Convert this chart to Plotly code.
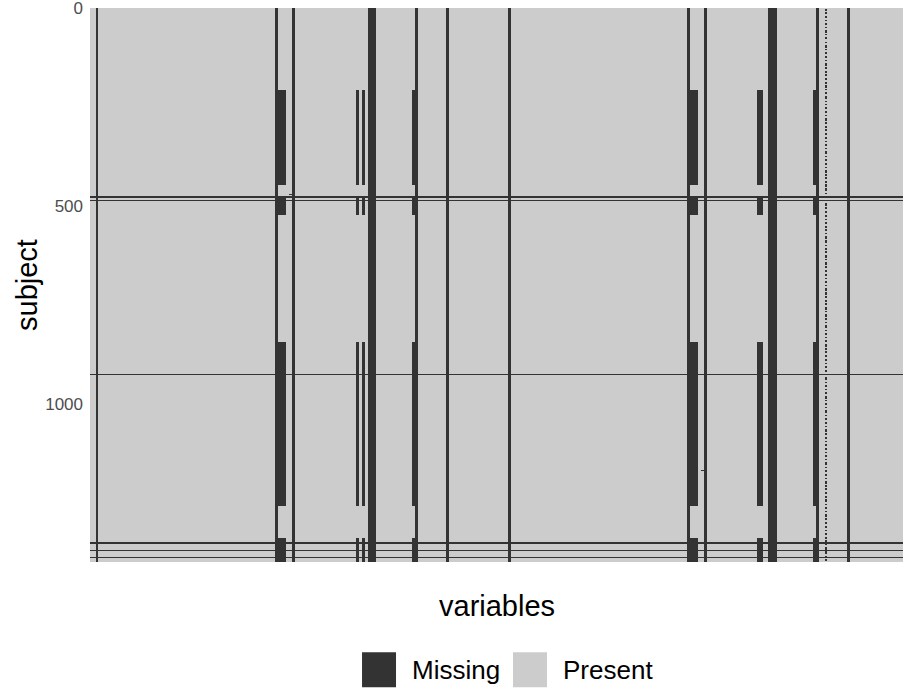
import numpy as np
import plotly.graph_objects as go

# ---- data (vis_miss style missingness map) ----
n_rows = 1400
n_cols = 290
y_ticks = [0, 500, 1000]
legend_labels = ["Missing", "Present"]
legend_colors = ["#333333", "#cccccc"]

# columns that are missing for every subject
full_missing_cols = [2, 66, 72, 99, 100, 101, 116, 127, 149, 213, 219, 242, 243, 244, 259, 270]
# columns missing in the same blocks of subjects
block_missing_cols = [67, 68, 69, 95, 97, 115, 214, 215, 216, 238, 239, 258]
block_segments = [(206, 448), (476, 524), (845, 1259), (1340, 1400)]
# subjects missing on every variable
full_missing_rows = [476, 478, 486, 926, 1350, 1353, 1370, 1388]
# single missing cells (row, col)
single_missing = [(471, 71), (1168, 218)]
# sparsely missing column: runs of (first subject, number of subjects)
speckle_col = 262
speckle_runs = [
    (2, 6), (11, 4), (19, 7), (30, 3), (37, 6), (47, 4), (56, 7), (66, 3), (73, 5), (85, 4),
    (93, 7), (104, 3), (111, 5), (121, 6), (131, 3), (139, 7), (150, 4), (158, 5), (168, 3),
    (176, 7), (187, 4), (195, 6), (205, 3), (213, 5), (223, 7), (234, 4), (242, 3), (250, 6),
    (260, 5), (270, 3), (278, 7), (289, 4), (297, 5), (307, 3), (315, 6), (325, 7), (336, 3),
    (344, 5), (353, 4), (362, 7), (373, 3), (381, 6), (391, 5), (401, 3), (409, 7), (420, 4),
    (428, 5), (438, 3), (446, 6), (456, 7), (467, 3), (475, 5), (484, 4), (493, 7), (504, 3),
    (512, 6), (522, 5), (532, 3), (540, 7), (551, 4), (559, 5), (569, 3), (577, 6), (587, 7),
    (598, 3), (606, 5), (615, 4), (624, 7), (635, 3), (643, 6), (653, 5), (663, 3), (671, 7),
    (682, 4), (690, 5), (700, 3), (708, 6), (718, 7), (729, 3), (737, 5), (746, 4), (755, 7),
    (766, 3), (774, 6), (784, 5), (794, 3), (802, 7), (813, 4), (821, 5), (831, 3), (839, 6),
    (849, 7), (860, 3), (868, 5), (877, 4), (886, 7), (897, 3), (905, 6), (915, 5), (925, 3),
    (933, 7), (944, 4), (952, 5), (962, 3), (970, 6), (980, 7), (991, 3), (999, 5), (1008, 4),
    (1017, 7), (1028, 3), (1036, 6), (1046, 5), (1056, 3), (1064, 7), (1075, 4), (1083, 5),
    (1093, 3), (1101, 6), (1111, 7), (1122, 3), (1130, 5), (1139, 4), (1148, 7), (1159, 3),
    (1167, 6), (1177, 5), (1187, 3), (1195, 7), (1206, 4), (1214, 5), (1224, 3), (1232, 6),
    (1242, 7), (1253, 3), (1261, 5), (1270, 4), (1279, 7), (1290, 3), (1298, 6), (1308, 5),
    (1318, 3), (1326, 7), (1337, 4), (1345, 5), (1355, 3), (1363, 6), (1373, 7), (1384, 3),
    (1392, 5),
]

# ---- build the missingness matrix (1 = missing, 0 = present) ----
z = np.zeros((n_rows, n_cols), dtype=int)
for c in full_missing_cols:
    z[:, c] = 1
for c in block_missing_cols:
    for a, b in block_segments:
        z[a:b, c] = 1
for r in full_missing_rows:
    z[r, :] = 1
for r, c in single_missing:
    z[r, c] = 1
for start, length in speckle_runs:
    z[start:start + length, speckle_col] = 1

fig = go.Figure()
fig.add_trace(go.Heatmap(
    z=z,
    x=list(range(n_cols)),
    y=list(range(n_rows)),
    zmin=0, zmax=1,
    colorscale=[[0, legend_colors[1]], [0.5, legend_colors[1]],
                [0.5, legend_colors[0]], [1, legend_colors[0]]],
    showscale=False,
    hoverinfo="skip",
))

font_family = "Liberation Sans, Arial, Helvetica, sans-serif"

fig.update_layout(
    width=903, height=689,
    margin=dict(l=90, r=0, t=8, b=127),
    paper_bgcolor="white",
    plot_bgcolor="white",
    font=dict(family=font_family, color="black"),
    showlegend=False,
)
fig.update_xaxes(
    range=[-0.5, n_cols - 0.5],
    showticklabels=False, showgrid=False, zeroline=False, ticks="",
)
fig.update_yaxes(
    range=[n_rows - 0.5, -0.5],
    tickvals=y_ticks, ticktext=[str(v) for v in y_ticks],
    tickfont=dict(size=17, color="#4d4d4d", family=font_family),
    showgrid=False, zeroline=False, ticks="", ticklabelstandoff=6,
    ticklabeloverflow="allow",
)

# axis titles
fig.add_annotation(text="subject", xref="paper", yref="paper", x=-0.0775, y=0.5,
                   textangle=-90, showarrow=False, xanchor="center", yanchor="middle",
                   font=dict(size=29, color="black", family=font_family))
fig.add_annotation(text="variables", xref="paper", yref="paper", x=0.5, y=-0.079,
                   showarrow=False, xanchor="center", yanchor="middle",
                   font=dict(size=29, color="black", family=font_family))

# legend (keys drawn in paper space)
key_x = [0.3346, 0.5203]
key_w = 0.0418
key_y0, key_y1 = -0.226, -0.163
text_x = [0.3936, 0.5793]
for lab, col, kx, tx in zip(legend_labels, legend_colors, key_x, text_x):
    fig.add_shape(type="rect", xref="paper", yref="paper",
                  x0=kx, x1=kx + key_w, y0=key_y0, y1=key_y1,
                  fillcolor=col, line=dict(width=0))
    fig.add_annotation(text=lab, xref="paper", yref="paper", x=tx, y=(key_y0 + key_y1) / 2,
                       showarrow=False, xanchor="left", yanchor="middle",
                       font=dict(size=26, color="black", family=font_family))

fig.write_html("out.html", config={"displayModeBar": False},
               post_script="document.body.style.margin='0';")
